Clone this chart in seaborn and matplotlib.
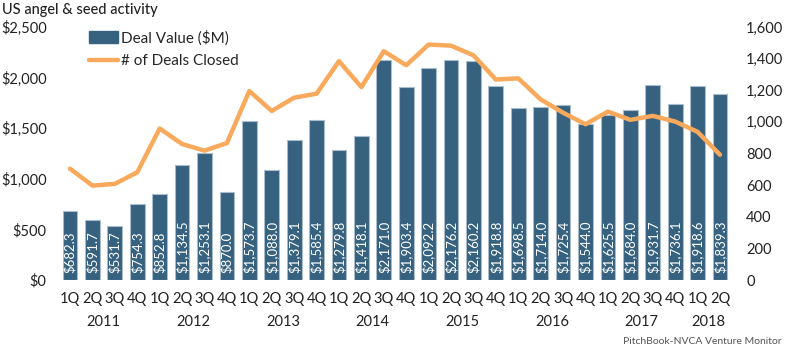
import matplotlib
matplotlib.use("Agg")
import matplotlib.pyplot as plt
import seaborn as sns
import pandas as pd
from matplotlib.lines import Line2D
from matplotlib.patches import Patch
import matplotlib.transforms as mtransforms

years = ["2011", "2012", "2013", "2014", "2015", "2016", "2017", "2018"]
quarters = ["1Q", "2Q", "3Q", "4Q"]
periods = [(y, q) for y in years for q in quarters][:30]
quarter_labels = [q for _, q in periods]
period_keys = [f"{y} {q}" for y, q in periods]

deal_value = [682.3, 591.7, 531.7, 754.3, 852.8, 1134.5, 1253.1, 870.0,
              1573.7, 1088.0, 1379.1, 1585.4, 1279.8, 1418.1, 2171.0, 1903.4,
              2092.2, 2176.2, 2160.2, 1918.8, 1698.5, 1714.0, 1725.4, 1544.0,
              1625.5, 1684.0, 1931.7, 1736.1, 1918.6, 1839.3]
deal_count = [704, 597, 608, 681, 958, 860, 818, 866,
              1195, 1069, 1153, 1178, 1384, 1220, 1447, 1358,
              1489, 1482, 1421, 1268, 1275, 1142, 1058, 985,
              1065, 1013, 1038, 1002, 937, 792]

left_ticks = [0, 500, 1000, 1500, 2000, 2500]
right_ticks = [0, 200, 400, 600, 800, 1000, 1200, 1400, 1600]

bar_color = "#36627F"
line_color = "#F8A95B"
text_color = "#222222"

sns.set_style("white")
plt.rcParams['font.family'] = ['Lato', 'DejaVu Sans']

df = pd.DataFrame({"period": period_keys, "value": deal_value,
                   "pos": list(range(len(period_keys))), "deals": deal_count})

fig = plt.figure(figsize=(7.86, 3.5), dpi=100)
ax = fig.add_axes([55 / 786, 0.2, 680 / 786, 253 / 350])

sns.barplot(data=df, x="period", y="value", order=period_keys, color=bar_color,
            saturation=1, width=0.66, edgecolor="#A9BCCB", linewidth=0.8, ax=ax)

ax2 = ax.twinx()
sns.lineplot(data=df, x="pos", y="deals", color=line_color, linewidth=3.2, ax=ax2)

ax.set_xlim(-0.67, 29.67)
ax.set_ylim(0, 2500)
ax2.set_ylim(0, 1600)

ax.set_yticks(left_ticks)
ax.set_yticklabels([f"${v:,.0f}" for v in left_ticks], fontsize=10.5, color=text_color)
ax2.set_yticks(right_ticks)
ax2.set_yticklabels([f"{v:,.0f}" for v in right_ticks], fontsize=10.5, color=text_color)
ax.set_xticks(range(len(quarter_labels)))
ax.set_xticklabels(quarter_labels, fontsize=10.5, color=text_color)
ax.tick_params(axis="x", length=0, pad=9)
ax.tick_params(axis="y", length=0, pad=6)
ax2.tick_params(axis="y", length=0, pad=8)
ax.set_xlabel("")
ax.set_ylabel("")
ax2.set_xlabel("")
ax2.set_ylabel("")
for a in (ax, ax2):
    for s in a.spines.values():
        s.set_visible(False)
ax.grid(False)
ax2.grid(False)

for i, v in enumerate(deal_value):
    ax.annotate(f"${v:,.1f}", xy=(i, 0), xytext=(0, 5), textcoords="offset points",
                rotation=90, ha="center", va="bottom", color="white", fontsize=9.5)

trans = mtransforms.blended_transform_factory(ax.transData, ax.transAxes)
for k, y in enumerate(years):
    idx = [i for i, (yy, _) in enumerate(periods) if yy == y]
    xc = (idx[0] + idx[-1]) / 2
    ax.text(xc, -0.165, y, transform=trans, ha="center", va="center",
            fontsize=10.5, color=text_color)

handles = [Patch(facecolor=bar_color, edgecolor=bar_color),
           Line2D([0], [0], color=line_color, linewidth=3.2)]
ax.legend(handles, ["Deal Value ($M)", "# of Deals Closed"], loc="upper left",
          bbox_to_anchor=(0.045, 1.0), frameon=False, fontsize=11,
          handlelength=1.9, handleheight=0.9, labelspacing=0.55, handletextpad=0.2,
          borderaxespad=0, borderpad=0.2)

fig.text(2 / 786, 1 - 10 / 350, "US angel & seed activity", ha="left", va="center",
         fontsize=10.5, color=text_color, fontweight="medium")
fig.text(782 / 786, 1 - 341 / 350, "PitchBook-NVCA Venture Monitor", ha="right",
         va="center", fontsize=7.5, color="#555555")

fig.savefig("out.png", dpi=100)
